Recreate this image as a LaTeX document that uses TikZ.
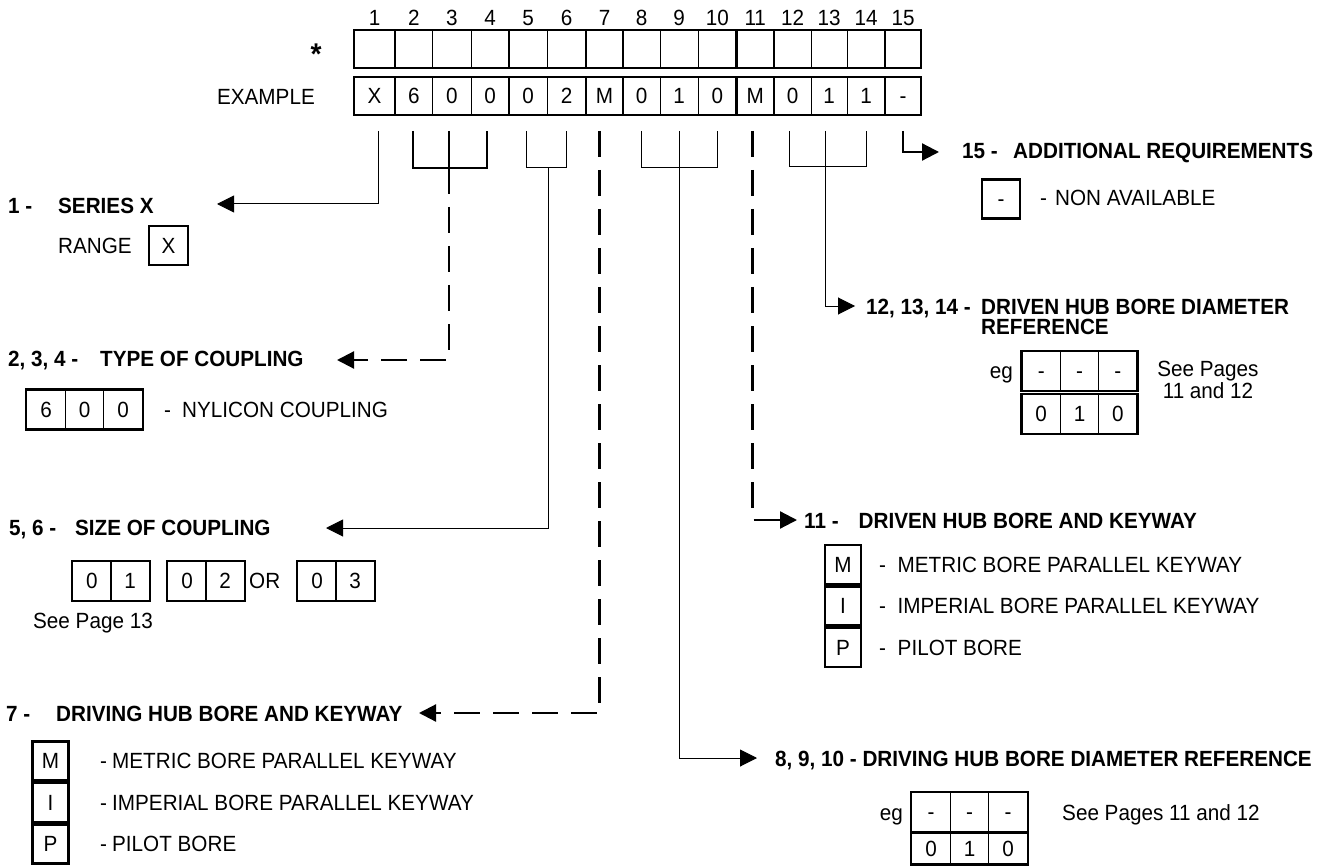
\documentclass[tikz,border=0pt]{standalone}
\usepackage{fontspec}
\setmainfont{Liberation Sans}[FakeStretch=0.94]
\usetikzlibrary{arrows.meta}
\begin{document}
\begin{tikzpicture}[x=1pt,y=-1pt,
  thinln/.style={line width=1pt},
  thickln/.style={line width=2.2pt},
  dsh/.style={line width=2.2pt, dash pattern=on 26pt off 13pt},
  arr/.style={-{Triangle[length=17pt,width=17pt]}},
  rg/.style={font=\fontsize{22}{25}\selectfont, inner sep=0pt, anchor=base west},
  bf/.style={font=\fontsize{22}{25}\selectfont\bfseries, inner sep=0pt, anchor=base west},
  ctr/.style={font=\fontsize{22}{25}\selectfont, inner sep=0pt, anchor=base},
  cell/.style={draw, line width=1pt, font=\fontsize{22}{25}\selectfont, inner sep=0pt,
    text height=15.7pt, text depth=0pt, minimum width=38.5pt, minimum height=39pt},
  sbox/.style={cell, line width=2.2pt, minimum width=36pt}
]
\useasboundingbox (0,0) rectangle (1337,866);

% ---------- code grid ----------
\node[ctr, font=\fontsize{30}{30}\selectfont\bfseries] (star) at (316,65) {*};
\node[rg, anchor=base east] (example) at (315,104.8) {EXAMPLE};
\foreach \a/\b/\v [count=\i] in {354/395/X, 395/432.5/6, 432.5/471/0, 471/509/0, 509/547/0,
  547/586/2, 586/623/M, 623/660/0, 660/698/1, 698/736.5/0, 736.5/774/M, 774/811/0,
  811/847/1, 847/885/1, 885/921/-}{
  \node[ctr] (num\i) at ({(\a+\b)/2},26) {\i};
  \node[ctr] (ex\i) at ({(\a+\b)/2},103.8) {\v};
}
\draw[thickln] (354,30) rectangle (921,68);
\draw[thickln] (354,77) rectangle (921,115);
\foreach \x in {395,509,586,623,736.5,774,885}
  \draw[thickln] (\x,30) -- (\x,68) (\x,77) -- (\x,115);
\foreach \x in {432.5,471,547,660,698,811,847}
  \draw[thinln] (\x,30) -- (\x,68) (\x,77) -- (\x,115);

% ---------- connector coordinates ----------
\coordinate (k1) at (378,131);
\coordinate (t1) at (217,204);
\coordinate (k24) at (449,168);
\coordinate (t24) at (337,360);
\coordinate (k56) at (548,168);
\coordinate (t56) at (326,528);
\coordinate (k7) at (599.5,131);
\coordinate (t7) at (419,713);
\coordinate (k810) at (679,168);
\coordinate (t810) at (757,758);
\coordinate (k11) at (752.5,131);
\coordinate (t11) at (797,520);
\coordinate (k1214) at (825,131);
\coordinate (t1214) at (855,306);
\coordinate (k15) at (903,131);
\coordinate (t15) at (939,152);

% brackets
\draw[thickln] (413,131) |- (487,168) -- (487,131);
\draw[thickln] (449,131) -- (k24);
\draw[thinln] (526,131) |- (566,168) -- (566,131);
\draw[thinln] (641,131) |- (717,168) -- (717,131);
\draw[thinln] (679,131) -- (k810);
\draw[thinln] (789,131) |- (866,167) -- (866,131);

% connectors
\draw[thinln,arr] (k1) |- (t1);
\draw[dsh,arr] (k24) |- (t24);
\draw[thinln,arr] (k56) |- (t56);
\draw[dsh,arr] (k7) |- (t7);
\draw[thinln,arr] (k810) |- (t810);
\draw[dsh,arr] (k11) |- (t11);
\draw[thinln,arr] (k1214) |- (t1214);
\draw[thickln,arr] (k15) |- (t15);

% ---------- 1 ----------
\node[bf] (h1n) at (8,214) {1 -};
\node[bf] (h1) at (58,214) {SERIES X};
\node[rg] (range) at (58,254) {RANGE};
\node[sbox, minimum width=38.5pt] (rx) at (168.5,245.5) {X};

% ---------- 2,3,4 ----------
\node[bf] (h24n) at (8,366.5) {2, 3, 4 -};
\node[bf] (h24) at (100,366.5) {TYPE OF COUPLING};
\node[cell] (c6a) at (46,409.5) {6};
\node[cell] (c6b) at (84.5,409.5) {0};
\node[cell] (c6c) at (123,409.5) {0};
\draw[thickln] (c6a.north west) rectangle (c6c.south east);
\node[rg] (nyd) at (164,417.5) {-};
\node[rg] (ny) at (182,417.5) {NYLICON COUPLING};

% ---------- 5,6 ----------
\node[bf] (h56n) at (9,535) {5, 6 -};
\node[bf] (h56) at (75,535) {SIZE OF COUPLING};
\node[cell] (s1a) at (91.8,581) {0};
\node[cell] (s1b) at (130.2,581) {1};
\draw[thickln] (s1a.north west) rectangle (s1b.south east);
\node[cell] (s2a) at (187,581) {0};
\node[cell] (s2b) at (225,581) {2};
\draw[thickln] (s2a.north west) rectangle (s2b.south east);
\node[rg] (or) at (249,588.9) {OR};
\node[cell] (s3a) at (317,581) {0};
\node[cell] (s3b) at (355,581) {3};
\draw[thickln] (s3a.north west) rectangle (s3b.south east);
\node[rg] (sp13) at (33,628) {See Page 13};

% ---------- 7 ----------
\node[bf] (h7n) at (6,721) {7 -};
\node[bf] (h7) at (56,721) {DRIVING HUB BORE AND KEYWAY};
\node[sbox] (lm) at (50.5,761) {M};
\node[sbox] (li) at (50.5,802.5) {I};
\node[sbox] (lp) at (50.5,844) {P};
\node[rg] (lmd) at (100,768.9) {-};
\node[rg] (lmt) at (112,768.9) {METRIC BORE PARALLEL KEYWAY};
\node[rg] (lid) at (100,810.4) {-};
\node[rg] (lit) at (112,810.4) {IMPERIAL BORE PARALLEL KEYWAY};
\node[rg] (lpd) at (100,851.9) {-};
\node[rg] (lpt) at (112,851.9) {PILOT BORE};

% ---------- 15 ----------
\node[bf] (h15n) at (962,158.5) {15 -};
\node[bf] (h15) at (1013,158.5) {ADDITIONAL REQUIREMENTS};
\node[sbox, minimum width=38pt] (na) at (1001,199) {-};
\node[rg] (nad) at (1040,206) {-};
\node[rg] (nat) at (1055,206) {NON AVAILABLE};

% ---------- 12,13,14 ----------
\node[bf] (h1214n) at (866,314) {12, 13, 14 -};
\node[bf] (h1214) at (981,314) {DRIVEN HUB BORE DIAMETER};
\node[bf] (h1214b) at (981,334) {REFERENCE};
\node[rg, anchor=base east] (eg2) at (1013,378.9) {eg};
\node[cell] (ea1) at (1041.2,371) {-};
\node[cell] (ea2) at (1079.5,371) {-};
\node[cell] (ea3) at (1117.8,371) {-};
\draw[thickln] (ea1.north west) rectangle (ea3.south east);
\node[cell] (eb1) at (1041.2,414) {0};
\node[cell] (eb2) at (1079.5,414) {1};
\node[cell] (eb3) at (1117.8,414) {0};
\draw[thickln] (eb1.north west) rectangle (eb3.south east);
\node[ctr] (spg2a) at (1208,376.5) {See Pages};
\node[ctr] (spg2b) at (1208,398.5) {11 and 12};

% ---------- 11 ----------
\node[bf] (h11n) at (804,528) {11 -};
\node[bf] (h11) at (858.5,528) {DRIVEN HUB BORE AND KEYWAY};
\node[sbox] (rm) at (843,564.5) {M};
\node[sbox] (ri) at (843,606) {I};
\node[sbox] (rp) at (843,647.5) {P};
\node[rg] (rmd) at (879,572.4) {-};
\node[rg] (rmt) at (897.5,572.4) {METRIC BORE PARALLEL KEYWAY};
\node[rg] (rid) at (879,613.9) {-};
\node[rg] (rit) at (897.5,613.9) {IMPERIAL BORE PARALLEL KEYWAY};
\node[rg] (rpd) at (879,655.4) {-};
\node[rg] (rpt) at (897.5,655.4) {PILOT BORE};

% ---------- 8,9,10 ----------
\node[bf] (h810) at (775,766) {8, 9, 10 - DRIVING HUB BORE DIAMETER REFERENCE};
\node[rg, anchor=base east] (eg1) at (903,820) {eg};
\node[cell] (fa1) at (931,812) {-};
\node[cell] (fa2) at (969.5,812) {-};
\node[cell] (fa3) at (1008,812) {-};
\draw[thickln] (fa1.north west) rectangle (fa3.south east);
\node[cell, minimum height=31pt] (fb1) at (931,848.5) {0};
\node[cell, minimum height=31pt] (fb2) at (969.5,848.5) {1};
\node[cell, minimum height=31pt] (fb3) at (1008,848.5) {0};
\draw[thickln] (fb1.north west) rectangle (fb3.south east);
\node[rg] (spg1) at (1062,820) {See Pages 11 and 12};
\end{tikzpicture}
\end{document}
